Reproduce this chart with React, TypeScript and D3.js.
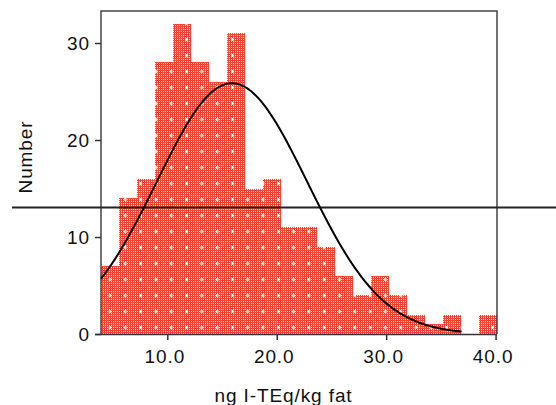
import React, { useEffect, useRef } from "react";
import * as d3 from "d3";

// histogram bins (lower/upper edges, ng I-TEq/kg fat)
const binEdges = [
  3.94, 5.585, 7.23, 8.875, 10.52, 12.165, 13.81, 15.455, 17.1, 18.745, 20.39,
  22.035, 23.68, 25.325, 26.97, 28.615, 30.26, 31.905, 33.55, 35.195, 36.84,
  38.485, 40.13,
];
const counts = [
  7, 14, 16, 28, 32, 28, 26, 31, 15, 16, 11, 11, 9, 6, 4, 6, 4, 2, 1, 2, 0, 2,
];

// fitted normal curve
const curveMean = 15.91;
const curveSd = 6.88;
const curveN = 271;
const curveRange = [3.94, 36.9];

const xTicks = [10, 20, 30, 40];
const yTicks = [0, 10, 20, 30];
const refLineValue = 13.05;

const W = 556;
const H = 405;
const font = "'Liberation Sans', Arial, sans-serif";

export default function App() {
  const ref = useRef<SVGSVGElement>(null);

  useEffect(() => {
    const svg = d3.select(ref.current);
    svg.selectAll("*").remove();

    const x = d3.scaleLinear().domain([3.94, 40.13]).range([101, 497]);
    const y = d3.scaleLinear().domain([0, 33.3]).range([334, 11]);

    const defs = svg.append("defs");
    const checker = defs
      .append("pattern")
      .attr("id", "checker")
      .attr("patternUnits", "userSpaceOnUse")
      .attr("width", 2)
      .attr("height", 2);
    checker.append("rect").attr("width", 2).attr("height", 2).attr("fill", "#ff4030");
    checker
      .append("rect")
      .attr("x", 1)
      .attr("y", 1)
      .attr("width", 1)
      .attr("height", 1)
      .attr("fill", "#ffffff");

    const dots = defs
      .append("pattern")
      .attr("id", "dots")
      .attr("patternUnits", "userSpaceOnUse")
      .attr("x", 101)
      .attr("y", 0)
      .attr("width", 15.3)
      .attr("height", 16);
    dots
      .append("rect")
      .attr("x", 8)
      .attr("y", 6)
      .attr("width", 2)
      .attr("height", 3)
      .attr("fill", "#ffffff");

    const bins = counts.map((c, i) => ({ x0: binEdges[i], x1: binEdges[i + 1], c }));

    const barG = svg.append("g").attr("shape-rendering", "crispEdges");
    ["url(#checker)", "url(#dots)"].forEach((fill) => {
      barG
        .append("g")
        .selectAll("rect")
        .data(bins.filter((b) => b.c > 0))
        .enter()
        .append("rect")
        .attr("x", (d) => x(d.x0))
        .attr("width", (d) => x(d.x1) - x(d.x0))
        .attr("y", (d) => y(d.c))
        .attr("height", (d) => y(0) - y(d.c))
        .attr("fill", fill);
    });

    // frame
    svg
      .append("path")
      .attr("d", `M${x(3.94)},${y(0)}V${y(33.3)}H${x(40.13)}V${y(0)}`)
      .attr("fill", "none")
      .attr("stroke", "#444")
      .attr("stroke-width", 1.5);

    // axes
    const xAxis = d3
      .axisBottom(x)
      .tickValues(xTicks)
      .tickSize(6)
      .tickFormat(d3.format(".1f"));
    const gx = svg.append("g").attr("transform", `translate(0,${y(0)})`).call(xAxis);
    gx.select(".domain").attr("d", `M95,0.5H${x(40.13)}`).attr("stroke", "#333").attr("stroke-width", 1.5);
    gx.selectAll(".tick line").attr("stroke", "#333").attr("stroke-width", 1.5);
    gx.selectAll(".tick text")
      .attr("y", 29)
      .attr("dy", 0)
      .attr("dx", -3)
      .attr("fill", "#111")
      .style("font-family", font)
      .style("font-size", "19px")
      .style("letter-spacing", "0.9px");

    const yAxis = d3.axisLeft(y).tickValues(yTicks).tickSize(6).tickFormat(d3.format("d"));
    const gy = svg.append("g").attr("transform", `translate(${x(3.94)},0)`).call(yAxis);
    gy.select(".domain").remove();
    gy.selectAll(".tick line").attr("stroke", "#333").attr("stroke-width", 1.5);
    gy.selectAll(".tick text")
      .attr("x", -11)
      .attr("fill", "#111")
      .style("font-family", font)
      .style("font-size", "19px")
      .style("letter-spacing", "0.9px");

    // horizontal reference line
    svg
      .append("line")
      .attr("x1", 12)
      .attr("x2", W)
      .attr("y1", y(refLineValue))
      .attr("y2", y(refLineValue))
      .attr("stroke", "#222")
      .attr("stroke-width", 2);

    // normal curve
    const bw = binEdges[1] - binEdges[0];
    const normal = (v: number) =>
      ((curveN * bw) / (curveSd * Math.sqrt(2 * Math.PI))) *
      Math.exp(-0.5 * ((v - curveMean) / curveSd) ** 2);
    const pts = d3.range(curveRange[0], curveRange[1], 0.1).concat([curveRange[1]]);
    svg
      .append("path")
      .datum(pts)
      .attr("fill", "none")
      .attr("stroke", "#000")
      .attr("stroke-width", 2)
      .attr(
        "d",
        d3
          .line<number>()
          .x((d) => x(d))
          .y((d) => y(normal(d)))
      );

    // axis titles
    svg
      .append("text")
      .attr("transform", "translate(32,157) rotate(-90)")
      .attr("text-anchor", "middle")
      .attr("fill", "#111")
      .style("font-family", font)
      .style("font-size", "19px")
      .style("letter-spacing", "0.9px")
      .text("Number");

    svg
      .append("text")
      .attr("x", 283.5)
      .attr("y", 401.5)
      .attr("text-anchor", "middle")
      .attr("fill", "#111")
      .style("font-family", font)
      .style("font-size", "19px")
      .style("letter-spacing", "0.9px")
      .text("ng I-TEq/kg fat");
  }, []);

  return (
    <svg
      ref={ref}
      width={W}
      height={H}
      style={{ position: "absolute", left: 0, top: 0, background: "#fff" }}
    />
  );
}
